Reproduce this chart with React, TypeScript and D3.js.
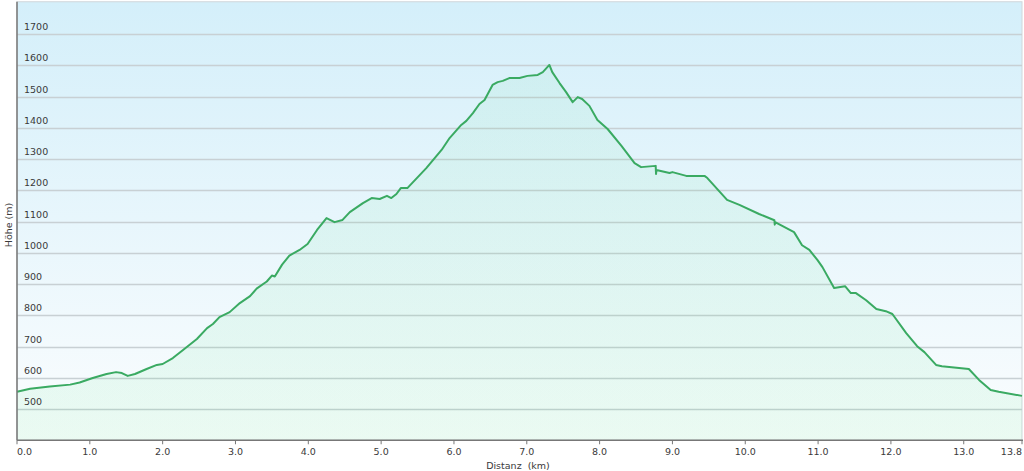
import React, { useEffect, useRef } from "react";
import * as d3 from "d3";

const distanceKm = [
  0.0, 0.18, 0.45, 0.73, 0.86, 1.04, 1.23, 1.36, 1.44, 1.52, 1.62, 1.78, 1.92, 2.0, 2.14, 2.28, 2.47, 2.61, 2.69,
  2.78, 2.92, 3.06, 3.2, 3.29, 3.43, 3.5, 3.54, 3.64, 3.74, 3.88, 3.99, 4.12, 4.25, 4.36, 4.47, 4.57, 4.75, 4.87,
  4.98, 5.08, 5.14, 5.21, 5.27, 5.36, 5.49, 5.62, 5.83, 5.94, 6.1, 6.17, 6.26, 6.35, 6.42, 6.53, 6.6, 6.67, 6.76,
  6.9, 7.01, 7.15, 7.22, 7.31, 7.35, 7.45, 7.54, 7.63, 7.7, 7.76, 7.86, 7.97, 8.11, 8.3, 8.48, 8.57, 8.77, 8.775,
  8.78, 8.96, 9.0, 9.19, 9.44, 9.48, 9.75, 9.92, 10.19, 10.4, 10.405, 10.41, 10.67, 10.78, 10.88, 10.99, 11.06,
  11.22, 11.37, 11.45, 11.52, 11.66, 11.8, 11.93, 12.02, 12.21, 12.36, 12.46, 12.62, 12.7, 13.07, 13.21, 13.37,
  13.48, 13.8,
];
const elevationM = [
  555, 565, 572, 578, 585, 599, 612, 618, 615, 606, 612, 628, 641, 644, 663, 689, 724, 759, 772,
  794, 810, 839, 861, 885, 908, 927, 924, 962, 991, 1009, 1028, 1073, 1111, 1098, 1105, 1130, 1159, 1175,
  1172, 1182, 1175, 1188, 1207, 1207, 1239, 1271, 1329, 1367, 1409, 1422, 1447, 1476, 1489, 1537, 1546, 1550, 1559,
  1559, 1566, 1569, 1578, 1601, 1578, 1543, 1514, 1482, 1498, 1492, 1470, 1425, 1396, 1342, 1287, 1274, 1278, 1252,
  1265, 1255, 1258, 1246, 1246, 1239, 1169, 1153, 1124, 1104, 1090, 1098, 1066, 1024, 1009, 977, 954,
  887, 893, 871, 871, 848, 820, 813, 804, 743, 701, 682, 641, 637, 628, 593, 561,
  555, 542,
];
const yTicks = [500, 600, 700, 800, 900, 1000, 1100, 1200, 1300, 1400, 1500, 1600, 1700];
const xTicks = [0, 1, 2, 3, 4, 5, 6, 7, 8, 9, 10, 11, 12, 13, 13.8];
const xTitle = "Distanz  (km)";
const yTitle = "Höhe (m)";

export default function App() {
  const ref = useRef<SVGSVGElement>(null);
  useEffect(() => {
    const svg = d3.select(ref.current);
    svg.selectAll("*").remove();
    const W = 1024, H = 471;
    const m = { left: 17, right: 1022, top: 2.75, bottom: 440.25 };
    const x = d3.scaleLinear().domain([0, 13.8]).range([m.left, m.right]);
    const y = d3.scaleLinear().domain([400, 1800]).range([m.bottom, m.top]);
    const font = "'DejaVu Sans', Verdana, sans-serif";

    const defs = svg.append("defs");
    const bg = defs.append("linearGradient").attr("id", "bg").attr("x1", 0).attr("y1", 0).attr("x2", 0).attr("y2", 1);
    bg.append("stop").attr("offset", "0%").attr("stop-color", "#d4effa");
    bg.append("stop").attr("offset", "100%").attr("stop-color", "#fbfdfe");
    const ag = defs.append("linearGradient").attr("id", "ag").attr("x1", 0).attr("y1", 0).attr("x2", 0).attr("y2", 1);
    ag.append("stop").attr("offset", "0%").attr("stop-color", "#44d27a").attr("stop-opacity", 0.07);
    ag.append("stop").attr("offset", "100%").attr("stop-color", "#44e07a").attr("stop-opacity", 0.09);

    svg.append("rect").attr("x", 0).attr("y", 0).attr("width", W).attr("height", H).attr("fill", "#ffffff");
    svg.append("rect").attr("x", m.left).attr("y", m.top - 1).attr("width", m.right - m.left)
      .attr("height", m.bottom - m.top + 1).attr("fill", "url(#bg)").attr("stroke", "#d0d6da");

    // grid
    svg.append("g").selectAll("line").data(yTicks).join("line")
      .attr("x1", m.left).attr("x2", m.right).attr("y1", (d) => Math.round(y(d)) + 0.5).attr("y2", (d) => Math.round(y(d)) + 0.5)
      .attr("stroke", "#c8d0d4").attr("stroke-width", 1.5);

    const data = distanceKm.map((d, i) => [d, elevationM[i]] as [number, number]);
    const area = d3.area<[number, number]>().x((d) => x(d[0])).y0(m.bottom).y1((d) => y(d[1]));
    svg.append("path").datum(data).attr("d", area).attr("fill", "url(#ag)");

    // y labels
    svg.append("g").selectAll("text").data(yTicks).join("text")
      .attr("x", 24).attr("y", (d) => y(d) - 4).text((d) => d)
      .attr("font-family", font).attr("font-size", 9.5).attr("fill", "#3a3a3a");

    const line = d3.line<[number, number]>().x((d) => x(d[0])).y((d) => y(d[1]));
    svg.append("path").datum(data).attr("d", line).attr("fill", "none")
      .attr("stroke", "#3aaa62").attr("stroke-width", 2).attr("stroke-linejoin", "round");

    // axes
    svg.append("line").attr("x1", m.left).attr("x2", m.left).attr("y1", m.top - 1).attr("y2", m.bottom)
      .attr("stroke", "#777").attr("stroke-width", 1.5);
    svg.append("line").attr("x1", m.left).attr("x2", m.right + 1).attr("y1", m.bottom).attr("y2", m.bottom)
      .attr("stroke", "#777").attr("stroke-width", 1.5);
    svg.append("g").selectAll("line").data(xTicks).join("line")
      .attr("x1", (d) => x(d)).attr("x2", (d) => x(d)).attr("y1", m.bottom).attr("y2", m.bottom + 4)
      .attr("stroke", "#777").attr("stroke-width", 1);
    svg.append("g").selectAll("text").data(xTicks).join("text")
      .attr("x", (d) => x(d) + 0)
      .attr("text-anchor", (d, i) => (i === 0 ? "start" : i === xTicks.length - 1 ? "end" : "middle"))
      .attr("y", 455).text((d) => d.toFixed(1))
      .attr("font-family", font).attr("font-size", 9.5).attr("fill", "#3a3a3a");

    svg.append("text").attr("x", 518).attr("y", 469).attr("text-anchor", "middle").text(xTitle)
      .attr("font-family", font).attr("font-size", 9.5).attr("fill", "#3a3a3a")
      .style("white-space", "pre");
    svg.append("text").attr("transform", "translate(12,225) rotate(-90)").attr("text-anchor", "middle").text(yTitle)
      .attr("font-family", font).attr("font-size", 9.5).attr("fill", "#3a3a3a");
  }, []);
  return (
    <svg ref={ref} width={1024} height={471} style={{ position: "absolute", left: 0, top: 0, display: "block" }} />
  );
}
